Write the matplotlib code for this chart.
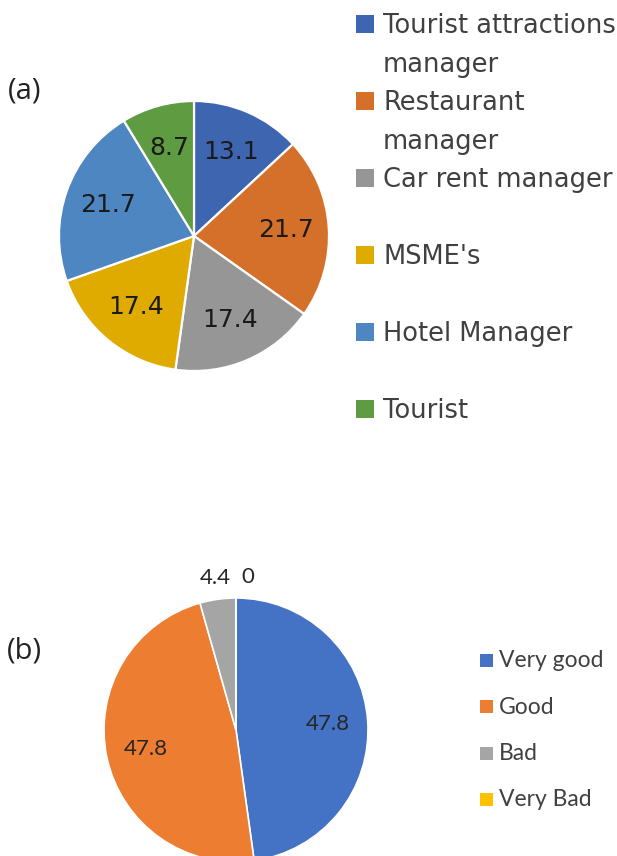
import matplotlib
matplotlib.use("Agg")
import matplotlib.pyplot as plt
from matplotlib.patches import Rectangle
import numpy as np

#----------------------DATA------------------------
# (a) respondents by group (%)
groups_a = ["Tourist attractions\nmanager", "Restaurant\nmanager", "Car rent manager",
            "MSME's", "Hotel Manager", "Tourist"]
share_a = [13.1, 21.7, 17.4, 17.4, 21.7, 8.7]
colors_a = ["#3D65B0", "#D5702A", "#969696", "#E0AB00", "#4E86C1", "#5E9B41"]

# (b) rating (%)
ratings_b = ["Very good", "Good", "Bad", "Very Bad"]
share_b = [47.8, 47.8, 4.4, 0]
colors_b = ["#4472C4", "#ED7D31", "#A5A5A5", "#FFC000"]

#----------------------LAYOUT (pixels)------------------------
W, H = 617, 856


def fx(x):
    return x / W


def fy(y):
    return 1 - y / H


def pie_axes(fig, cx, cy, r):
    ax = fig.add_axes([fx(cx - r), fy(cy + r), 2 * r / W, 2 * r / H])
    return ax


def draw_pie(ax, values, colors, lw, inner_d, outer_d, fontsize, family, color):
    wedges, _ = ax.pie(values, colors=colors, startangle=90, counterclock=False,
                       wedgeprops=dict(edgecolor="white", linewidth=lw))
    ax.set_xlim(-1, 1)
    ax.set_ylim(-1, 1)
    for w, v in zip(wedges, values):
        mid = np.deg2rad((w.theta1 + w.theta2) / 2)
        small = v < 5
        d = outer_d if small else inner_d
        x, y = d * np.cos(mid), d * np.sin(mid)
        ha = "center"
        if small and abs(np.cos(mid)) < 0.05:
            # label of the empty slice sits just right of the top
            ha = "left"
            x += 0.04
        ax.text(x, y, f"{v:g}", ha=ha, va="center", fontsize=fontsize,
                family=family, color=color)


def legend_box(fig, x, yc, size, color):
    fig.add_artist(Rectangle((fx(x), fy(yc + size / 2)), size / W, size / H,
                             transform=fig.transFigure, facecolor=color,
                             edgecolor="none"))


fig = plt.figure(figsize=(W / 100, H / 100), dpi=100)

# ---- (a) ----
ax_a = pie_axes(fig, 194, 236, 135)
draw_pie(ax_a, share_a, colors_a, 1.6, 0.68, 1.15, 18, "DejaVu Sans", "#1a1a1a")
fig.text(fx(8), fy(91), "(a)", fontsize=21, family="Open Sans", color="#222222",
         ha="left", va="center")

for i, (lab, c) in enumerate(zip(groups_a, colors_a)):
    yc = 24 + 77 * i
    legend_box(fig, 356, yc, 18, c)
    for k, line in enumerate(lab.split("\n")):
        fig.text(fx(383), fy(yc + 9 + 39 * k), line, fontsize=18.5,
                 family="DejaVu Sans", color="#404040", ha="left", va="baseline")

# ---- (b) ----
ax_b = pie_axes(fig, 236, 730, 132)
draw_pie(ax_b, share_b, colors_b, 1.2, 0.70, 1.16, 16, "Lato", "#262626")
fig.text(fx(7), fy(651), "(b)", fontsize=21, family="Open Sans", color="#222222",
         ha="left", va="center")

for i, (lab, c) in enumerate(zip(ratings_b, colors_b)):
    yc = 660 + 46.5 * i
    legend_box(fig, 480, yc, 13, c)
    fig.text(fx(499), fy(yc + 7), lab, fontsize=16.5, family="Lato",
             color="#404040", ha="left", va="baseline")

fig.savefig("out.png", dpi=100)
